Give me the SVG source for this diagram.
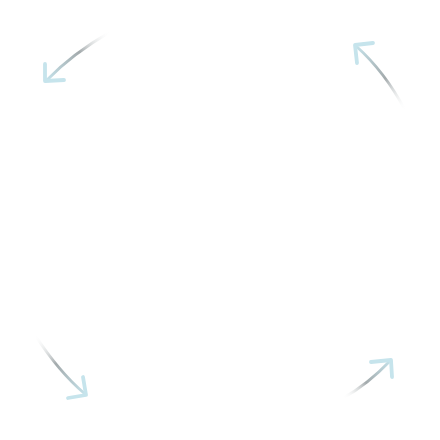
<svg xmlns="http://www.w3.org/2000/svg" width="440" height="440" viewBox="0 0 440 440">
<style>
.shaft{fill:none;stroke-width:2.8;stroke-linecap:round}
.head{fill:none;stroke:#c6e4ec;stroke-width:3.8;stroke-linecap:round;stroke-linejoin:round}
</style>
<defs>
<linearGradient id="g1" gradientUnits="userSpaceOnUse" x1="110" y1="32" x2="46" y2="81">
<stop offset="0" stop-color="#ffffff" stop-opacity="0"/>
<stop offset="0.45" stop-color="#a3aaac"/>
<stop offset="1" stop-color="#c6e4ec"/>
</linearGradient>
<linearGradient id="g2" gradientUnits="userSpaceOnUse" x1="405" y1="110" x2="355" y2="45">
<stop offset="0" stop-color="#ffffff" stop-opacity="0"/>
<stop offset="0.45" stop-color="#a3aaac"/>
<stop offset="1" stop-color="#c6e4ec"/>
</linearGradient>
<linearGradient id="g3" gradientUnits="userSpaceOnUse" x1="35" y1="335" x2="86" y2="395">
<stop offset="0" stop-color="#ffffff" stop-opacity="0"/>
<stop offset="0.45" stop-color="#a3aaac"/>
<stop offset="1" stop-color="#c6e4ec"/>
</linearGradient>
<linearGradient id="g4" gradientUnits="userSpaceOnUse" x1="343" y1="398" x2="391" y2="360">
<stop offset="0" stop-color="#ffffff" stop-opacity="0"/>
<stop offset="0.45" stop-color="#a3aaac"/>
<stop offset="1" stop-color="#c6e4ec"/>
</linearGradient>
</defs>
<rect width="440" height="440" fill="#ffffff"/>
<g id="connectors">
<g id="arrow-top-left">
<path class="shaft" stroke="url(#g1)" d="M110,32 Q72,54 47,80"/>
<path class="head" d="M45,64 L45,81 L64,80"/>
</g>
<g id="arrow-top-right">
<path class="shaft" stroke="url(#g2)" d="M405,110 Q385,72 356,46"/>
<path class="head" d="M373,43 L355,45 L357,63"/>
</g>
<g id="arrow-bottom-left">
<path class="shaft" stroke="url(#g3)" d="M35,335 Q59,372 85,394"/>
<path class="head" d="M83,377 L86,395 L68,398"/>
</g>
<g id="arrow-bottom-right">
<path class="shaft" stroke="url(#g4)" d="M343,398 Q367,385 390,361"/>
<path class="head" d="M371,362 L391,360 L392,377"/>
</g>
</g>
</svg>
